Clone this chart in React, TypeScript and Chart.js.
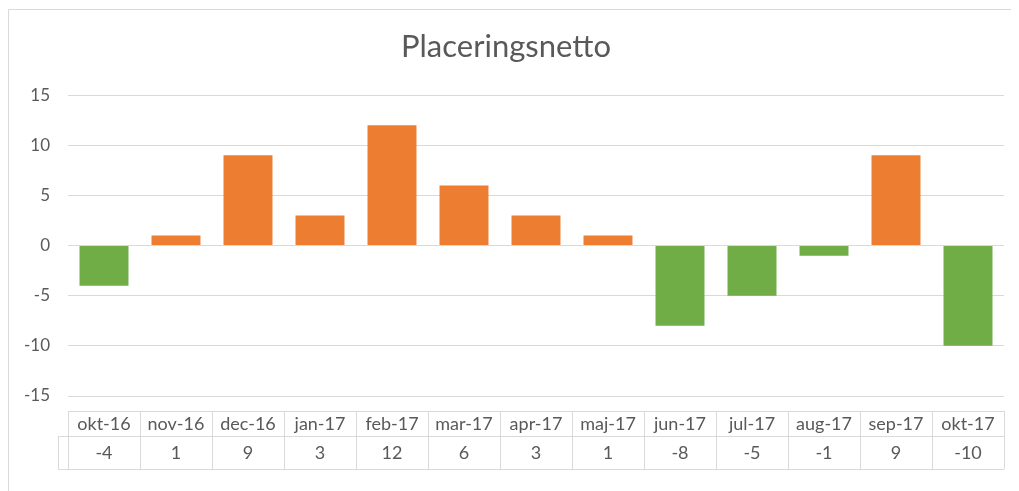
import React, { useEffect, useRef } from "react";
import { Chart, registerables } from "chart.js";

Chart.register(...registerables);

const categories: string[] = [
  "okt-16", "nov-16", "dec-16", "jan-17", "feb-17", "mar-17", "apr-17",
  "maj-17", "jun-17", "jul-17", "aug-17", "sep-17", "okt-17",
];
const values: number[] = [-4, 1, 9, 3, 12, 6, 3, 1, -8, -5, -1, 9, -10];
const yTicks: number[] = [15, 10, 5, 0, -5, -10, -15];
const chartTitle = "Placeringsnetto";

const ORANGE = "#ED7D31";
const GREEN = "#70AD47";
const TEXT = "#595959";
const LINE = "#D9D9D9";
const FONT = "Lato";

const tablePlugin = {
  id: "dataTable",
  afterDraw(chart: any) {
    const ctx = chart.ctx;
    const area = chart.chartArea;
    const xs = chart.scales.x;
    const n = categories.length;
    const colW = (area.right - area.left) / n;
    const top = area.bottom + 15;
    const mid = area.bottom + 40;
    const bot = area.bottom + 73;
    const keyLeft = area.left - 10;
    ctx.save();
    ctx.strokeStyle = LINE;
    ctx.lineWidth = 1;
    ctx.beginPath();
    const h = (x1: number, x2: number, y: number) => {
      ctx.moveTo(Math.round(x1), Math.round(y) + 0.5);
      ctx.lineTo(Math.round(x2), Math.round(y) + 0.5);
    };
    const v = (x: number, y1: number, y2: number) => {
      ctx.moveTo(Math.round(x) + 0.5, Math.round(y1));
      ctx.lineTo(Math.round(x) + 0.5, Math.round(y2));
    };
    h(area.left, area.right, top);
    h(keyLeft, area.right, mid);
    h(keyLeft, area.right, bot);
    v(keyLeft, mid, bot);
    for (let i = 0; i <= n; i++) {
      v(area.left + i * colW, top, bot);
    }
    ctx.stroke();
    ctx.fillStyle = TEXT;
    ctx.font = `18px ${FONT}`;
    ctx.textAlign = "center";
    ctx.textBaseline = "middle";
    categories.forEach((c, i) => {
      const cx = xs.getPixelForValue(i);
      ctx.fillText(c, cx, (top + mid) / 2 + 1);
      ctx.fillText(String(values[i]), cx, (mid + bot) / 2 + 1);
    });
    ctx.restore();
  },
};

const borderPlugin = {
  id: "outerBorder",
  beforeDraw(chart: any) {
    const ctx = chart.ctx;
    ctx.save();
    ctx.fillStyle = "#FFFFFF";
    ctx.fillRect(0, 0, chart.width, chart.height);
    ctx.strokeStyle = LINE;
    ctx.lineWidth = 1;
    ctx.beginPath();
    ctx.moveTo(0.5, chart.height);
    ctx.lineTo(0.5, 1.5);
    ctx.lineTo(chart.width, 1.5);
    ctx.stroke();
    ctx.restore();
  },
};

export default function App() {
  const ref = useRef<HTMLCanvasElement | null>(null);
  useEffect(() => {
    document.documentElement.style.overflow = "hidden";
    document.body.style.overflow = "hidden";
    if (!ref.current) return;
    const chart = new Chart(ref.current, {
      type: "bar",
      data: {
        labels: categories,
        datasets: [
          {
            data: values,
            backgroundColor: values.map((v) => (v >= 0 ? ORANGE : GREEN)),
            borderWidth: 0,
            barPercentage: 1,
            categoryPercentage: 0.68,
          },
        ],
      },
      options: {
        animation: false,
        responsive: true,
        maintainAspectRatio: false,
        layout: { padding: { left: 0, right: 15, top: 0, bottom: 95 } },
        plugins: {
          legend: { display: false },
          tooltip: { enabled: false },
          title: {
            display: true,
            text: chartTitle,
            color: TEXT,
            font: { family: FONT, size: 31, weight: "normal" },
            padding: { top: 20, bottom: 30 },
          },
        },
        scales: {
          x: {
            display: false,
            offset: true,
            grid: { display: false },
          },
          y: {
            min: -15,
            max: 15,
            afterBuildTicks: (scale: any) => {
              scale.ticks = yTicks.map((t) => ({ value: t }));
            },
            afterFit: (scale: any) => {
              scale.width = 60;
            },
            border: { display: false },
            grid: { color: LINE, lineWidth: 1, drawTicks: false },
            ticks: {
              color: TEXT,
              padding: 18,
              font: { family: FONT, size: 17 },
            },
          },
        },
      },
      plugins: [borderPlugin, tablePlugin],
    });
    return () => chart.destroy();
  }, []);
  return (
    <div style={{ position: "relative", width: 1011, height: 483 }}>
      <canvas ref={ref} />
    </div>
  );
}
